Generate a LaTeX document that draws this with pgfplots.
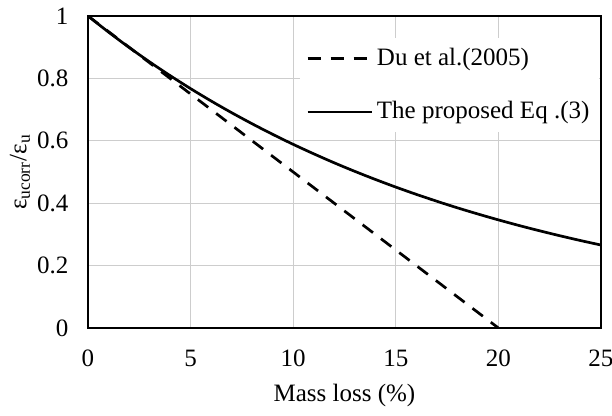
\documentclass[border=0pt]{standalone}
\usepackage{fontspec}
\setmainfont{Liberation Serif}
\usepackage{pgfplots}
\pgfplotsset{compat=1.18}
\definecolor{gridgray}{RGB}{205,205,205}
\begin{document}
\begin{tikzpicture}
\fontsize{12.5}{15}\selectfont
\useasboundingbox (-44pt,-44pt) rectangle (262pt,164pt);
\begin{axis}[
  at={(0,0)}, anchor=south west,
  scale only axis,
  width=256.5pt, height=156pt,
  xmin=0, xmax=25, ymin=0, ymax=1,
  xtick={0,5,...,25},
  ytick={0,0.2,0.4,0.6,0.8,1},
  /pgf/number format/assume math mode=true,
  ticklabel style={font=\fontsize{12.5}{15}\selectfont},
  yticklabel style={xshift=-5.5pt},
  xticklabel style={yshift=-6.5pt},
  major tick length=0pt,
  grid=major,
  major grid style={gridgray, line width=0.6pt},
  axis line style={line width=1.4pt},
  xlabel={Mass loss (\%)},
  ylabel={ε\textsubscript{ucorr}/ε\textsubscript{u}},
  label style={font=\fontsize{12.5}{15}\selectfont},
  xlabel style={at={(axis description cs:0.5,-0.215)}, anchor=center},
  ylabel style={at={(axis description cs:-0.1326,0.5)}, anchor=center},
  legend style={at={(0.413,0.93)}, anchor=north west, draw=none, fill=white,
    font=\fontsize{12.5}{15}\selectfont, row sep=12pt, inner sep=3pt},
  legend cell align=left,
  legend image code/.code={\draw[#1] (0pt,0pt) -- (32pt,0pt);},
]
\addplot[black, line width=1.35pt, dash pattern=on 6.5pt off 5pt] coordinates {(0,1) (20,0)};
\addlegendentry{Du et al.(2005)}
\addplot[black, line width=1.35pt, smooth] coordinates {
(0,1) (1,0.9484) (2,0.8994) (3,0.8530) (4,0.8090) (5,0.7672) (6,0.7276) (7,0.6901)
(8,0.6545) (9,0.6207) (10,0.5886) (11,0.5583) (12,0.5294) (13,0.5021) (14,0.4762)
(15,0.4516) (16,0.4283) (17,0.4062) (18,0.3852) (19,0.3654) (20,0.3465) (21,0.3286)
(22,0.3117) (23,0.2956) (24,0.2803) (25,0.2659)};
\addlegendentry{The proposed Eq .(3)}
\end{axis}
\end{tikzpicture}
\end{document}
